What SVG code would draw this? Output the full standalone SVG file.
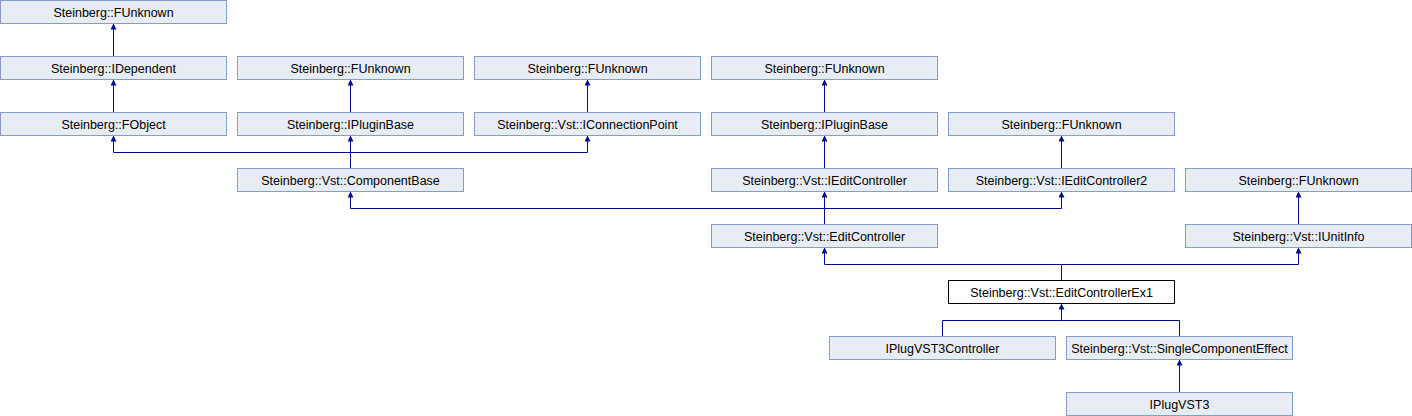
<svg xmlns="http://www.w3.org/2000/svg" width="1412" height="416" viewBox="0 0 1412 416">
<style>
.n rect{fill:#E8ECF5;stroke:#869CCB;stroke-width:1}
.n.cur rect{fill:#FFFFFF;stroke:#000000}
.n text{font-family:"Liberation Sans",Arial,sans-serif;font-size:12.5px;fill:#000000;text-anchor:middle}
.e path{fill:none;stroke:#000C8C;stroke-width:1}
</style>
<defs>
<marker id="ah" viewBox="0 0 6 6" refX="6" refY="3" markerWidth="6" markerHeight="6" markerUnits="userSpaceOnUse" orient="auto">
<path d="M0,0 L6,3 L0,6 z" fill="#000C8C"/>
</marker>
</defs>
<rect width="1412" height="416" fill="#FFFFFF"/>
<g class="e" id="connectors">
<path d="M113.5,56.5 V23.5" marker-end="url(#ah)"/>
<path d="M113.5,112.5 V79.5" marker-end="url(#ah)"/>
<path d="M350.5,112.5 V79.5" marker-end="url(#ah)"/>
<path d="M587.5,112.5 V79.5" marker-end="url(#ah)"/>
<path d="M824.5,112.5 V79.5" marker-end="url(#ah)"/>
<path d="M824.5,168.5 V135.5" marker-end="url(#ah)"/>
<path d="M1061.5,168.5 V135.5" marker-end="url(#ah)"/>
<path d="M1298.5,224.5 V191.5" marker-end="url(#ah)"/>
<path d="M350.5,168.5 V135.5" marker-end="url(#ah)"/>
<path d="M350.5,152.5 H113.5 V135.5" marker-end="url(#ah)"/>
<path d="M350.5,152.5 H587.5 V135.5" marker-end="url(#ah)"/>
<path d="M824.5,224.5 V191.5" marker-end="url(#ah)"/>
<path d="M824.5,208.5 H350.5 V191.5" marker-end="url(#ah)"/>
<path d="M824.5,208.5 H1061.5 V191.5" marker-end="url(#ah)"/>
<path d="M1061.5,280.5 V264.5 H824.5 V247.5" marker-end="url(#ah)"/>
<path d="M1061.5,264.5 H1298.5 V247.5" marker-end="url(#ah)"/>
<path d="M942.5,336.5 V320.5 H1061.5 V303.5" marker-end="url(#ah)"/>
<path d="M1179.5,336.5 V320.5 H1061.5"/>
<path d="M1179.5,392.5 V359.5" marker-end="url(#ah)"/>
</g>
<g class="n" id="n_funknown_0"><rect x="0.5" y="0.5" width="226" height="23"/><text x="113.5" y="16.5">Steinberg::FUnknown</text></g>
<g class="n" id="n_idependent"><rect x="0.5" y="56.5" width="226" height="23"/><text x="113.5" y="72.5">Steinberg::IDependent</text></g>
<g class="n" id="n_funknown_1"><rect x="237.5" y="56.5" width="226" height="23"/><text x="350.5" y="72.5">Steinberg::FUnknown</text></g>
<g class="n" id="n_funknown_2"><rect x="474.5" y="56.5" width="226" height="23"/><text x="587.5" y="72.5">Steinberg::FUnknown</text></g>
<g class="n" id="n_funknown_3"><rect x="711.5" y="56.5" width="226" height="23"/><text x="824.5" y="72.5">Steinberg::FUnknown</text></g>
<g class="n" id="n_fobject"><rect x="0.5" y="112.5" width="226" height="23"/><text x="113.5" y="128.5">Steinberg::FObject</text></g>
<g class="n" id="n_ipluginbase_1"><rect x="237.5" y="112.5" width="226" height="23"/><text x="350.5" y="128.5">Steinberg::IPluginBase</text></g>
<g class="n" id="n_iconnectionpoint"><rect x="474.5" y="112.5" width="226" height="23"/><text x="587.5" y="128.5">Steinberg::Vst::IConnectionPoint</text></g>
<g class="n" id="n_ipluginbase_2"><rect x="711.5" y="112.5" width="226" height="23"/><text x="824.5" y="128.5">Steinberg::IPluginBase</text></g>
<g class="n" id="n_funknown_4"><rect x="948.5" y="112.5" width="226" height="23"/><text x="1061.5" y="128.5">Steinberg::FUnknown</text></g>
<g class="n" id="n_componentbase"><rect x="237.5" y="168.5" width="226" height="23"/><text x="350.5" y="184.5">Steinberg::Vst::ComponentBase</text></g>
<g class="n" id="n_ieditcontroller"><rect x="711.5" y="168.5" width="226" height="23"/><text x="824.5" y="184.5">Steinberg::Vst::IEditController</text></g>
<g class="n" id="n_ieditcontroller2"><rect x="948.5" y="168.5" width="226" height="23"/><text x="1061.5" y="184.5">Steinberg::Vst::IEditController2</text></g>
<g class="n" id="n_funknown_5"><rect x="1185.5" y="168.5" width="226" height="23"/><text x="1298.5" y="184.5">Steinberg::FUnknown</text></g>
<g class="n" id="n_editcontroller"><rect x="711.5" y="224.5" width="226" height="23"/><text x="824.5" y="240.5">Steinberg::Vst::EditController</text></g>
<g class="n" id="n_iunitinfo"><rect x="1185.5" y="224.5" width="226" height="23"/><text x="1298.5" y="240.5">Steinberg::Vst::IUnitInfo</text></g>
<g class="n cur" id="n_editcontrollerex1"><rect x="948.5" y="280.5" width="226" height="23"/><text x="1061.5" y="296.5">Steinberg::Vst::EditControllerEx1</text></g>
<g class="n" id="n_iplugvst3controller"><rect x="829.5" y="336.5" width="226" height="23"/><text x="942.5" y="352.5">IPlugVST3Controller</text></g>
<g class="n" id="n_singlecomponenteffect"><rect x="1066.5" y="336.5" width="226" height="23"/><text x="1179.5" y="352.5">Steinberg::Vst::SingleComponentEffect</text></g>
<g class="n" id="n_iplugvst3"><rect x="1066.5" y="392.5" width="226" height="23"/><text x="1179.5" y="408.5">IPlugVST3</text></g>
</svg>
